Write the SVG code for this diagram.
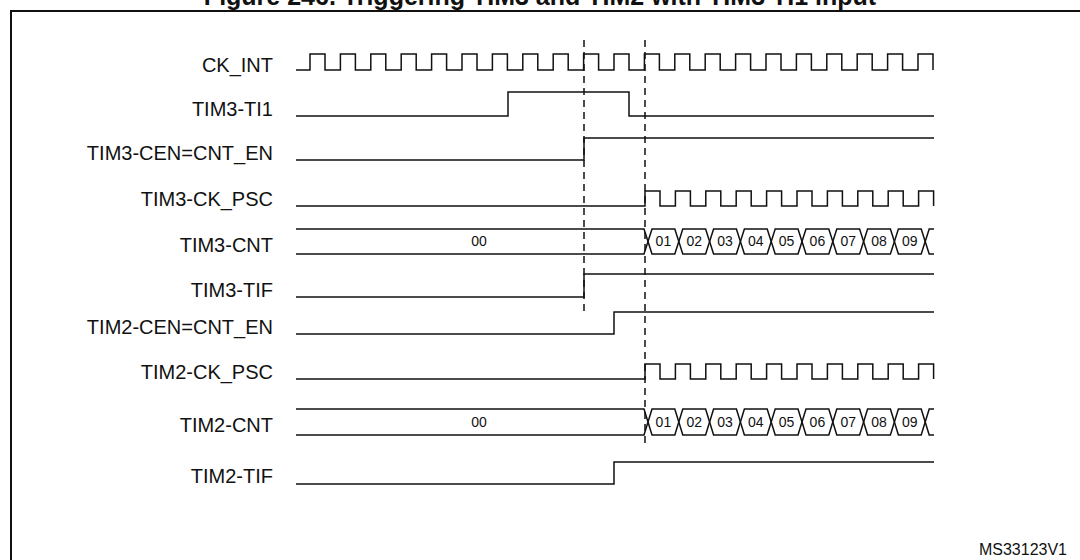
<svg xmlns="http://www.w3.org/2000/svg" width="1080" height="560" viewBox="0 0 1080 560">
<style>
.lbl{font-family:"Liberation Sans",Arial,sans-serif;font-size:20px;fill:#111;text-anchor:end}
.val{font-family:"Liberation Sans",Arial,sans-serif;font-size:14px;fill:#111;text-anchor:middle}
.w{fill:none;stroke:#111;stroke-width:1.5}
.d{fill:none;stroke:#111;stroke-width:1.5;stroke-dasharray:7,5}
</style>
<rect width="1080" height="560" fill="#fff"/>
<text x="540" y="5" style="font-family:'Liberation Sans',Arial,sans-serif;font-size:25px;font-weight:bold;text-anchor:middle" fill="#111">Figure 246. Triggering TIM3 and TIM2 with TIM3 TI1 input</text>
<path d="M11,570 V11 H1090" fill="none" stroke="#111" stroke-width="2"/>

<g id="guides">
<line class="d" x1="584" y1="40" x2="584" y2="312"/>
<line class="d" x1="645" y1="40" x2="645" y2="448"/>
</g>

<g id="ck_int">
<text class="lbl" x="273" y="72">CK_INT</text>
<path class="w" d="M296,70 H310 V54 H325 V70 H340.4 V54 H355.4 V70 H370.8 V54 H385.8 V70 H401.2 V54 H416.2 V70 H431.6 V54 H446.6 V70 H462 V54 H477 V70 H492.4 V54 H507.4 V70 H522.8 V54 H537.8 V70 H553.2 V54 H568.2 V70 H583.6 V54 H598.6 V70 H614 V54 H629 V70 H644.4 V54 H659.4 V70 H674.8 V54 H689.8 V70 H705.2 V54 H720.2 V70 H735.6 V54 H750.6 V70 H766 V54 H781 V70 H796.4 V54 H811.4 V70 H826.8 V54 H841.8 V70 H857.2 V54 H872.2 V70 H887.6 V54 H902.6 V70 H918 V54 H933 V70"/>
</g>

<g id="tim3_ti1">
<text class="lbl" x="273" y="116">TIM3-TI1</text>
<path class="w" d="M296,116 H508 V92 H629 V116 H934"/>
</g>

<g id="tim3_cen">
<text class="lbl" x="273" y="160">TIM3-CEN=CNT_EN</text>
<path class="w" d="M296,160 H584 V138 H934"/>
</g>

<g id="tim3_ck_psc">
<text class="lbl" x="273" y="206">TIM3-CK_PSC</text>
<path class="w" d="M296,206 H645 V191 H660 V206 H675.4 V191 H690.4 V206 H705.8 V191 H720.8 V206 H736.2 V191 H751.2 V206 H766.6 V191 H781.6 V206 H797 V191 H812 V206 H827.4 V191 H842.4 V206 H857.8 V191 H872.8 V206 H888.2 V191 H903.2 V206 H918.6 V191 H933.6 V206"/>
</g>

<g id="tim3_cnt">
<text class="lbl" x="273" y="252">TIM3-CNT</text>
<path class="w" d="M296,229 H644 L652,254 H674.8 L682.8,229 H705.6 L713.6,254 H736.4 L744.4,229 H767.2 L775.2,254 H798 L806,229 H828.8 L836.8,254 H859.6 L867.6,229 H890.4 L898.4,254 H921.2 L929.2,229 H934"/>
<path class="w" d="M296,254 H644 L652,229 H674.8 L682.8,254 H705.6 L713.6,229 H736.4 L744.4,254 H767.2 L775.2,229 H798 L806,254 H828.8 L836.8,229 H859.6 L867.6,254 H890.4 L898.4,229 H921.2 L929.2,254 H934"/>
<text class="val" x="479" y="246">00</text>
<text class="val" x="663.4" y="246">01</text>
<text class="val" x="694.2" y="246">02</text>
<text class="val" x="725" y="246">03</text>
<text class="val" x="755.8" y="246">04</text>
<text class="val" x="786.6" y="246">05</text>
<text class="val" x="817.4" y="246">06</text>
<text class="val" x="848.2" y="246">07</text>
<text class="val" x="879" y="246">08</text>
<text class="val" x="909.8" y="246">09</text>
</g>

<g id="tim3_tif">
<text class="lbl" x="273" y="297">TIM3-TIF</text>
<path class="w" d="M296,297 H584 V274 H934"/>
</g>

<g id="tim2_cen">
<text class="lbl" x="273" y="334">TIM2-CEN=CNT_EN</text>
<path class="w" d="M296,334 H614 V312 H934"/>
</g>

<g id="tim2_ck_psc">
<text class="lbl" x="273" y="379">TIM2-CK_PSC</text>
<path class="w" d="M296,379 H645 V364 H660 V379 H675.4 V364 H690.4 V379 H705.8 V364 H720.8 V379 H736.2 V364 H751.2 V379 H766.6 V364 H781.6 V379 H797 V364 H812 V379 H827.4 V364 H842.4 V379 H857.8 V364 H872.8 V379 H888.2 V364 H903.2 V379 H918.6 V364 H933.6 V379"/>
</g>

<g id="tim2_cnt">
<text class="lbl" x="273" y="432">TIM2-CNT</text>
<path class="w" d="M296,409 H644 L652,435 H674.8 L682.8,409 H705.6 L713.6,435 H736.4 L744.4,409 H767.2 L775.2,435 H798 L806,409 H828.8 L836.8,435 H859.6 L867.6,409 H890.4 L898.4,435 H921.2 L929.2,409 H934"/>
<path class="w" d="M296,435 H644 L652,409 H674.8 L682.8,435 H705.6 L713.6,409 H736.4 L744.4,435 H767.2 L775.2,409 H798 L806,435 H828.8 L836.8,409 H859.6 L867.6,435 H890.4 L898.4,409 H921.2 L929.2,435 H934"/>
<text class="val" x="479" y="427">00</text>
<text class="val" x="663.4" y="427">01</text>
<text class="val" x="694.2" y="427">02</text>
<text class="val" x="725" y="427">03</text>
<text class="val" x="755.8" y="427">04</text>
<text class="val" x="786.6" y="427">05</text>
<text class="val" x="817.4" y="427">06</text>
<text class="val" x="848.2" y="427">07</text>
<text class="val" x="879" y="427">08</text>
<text class="val" x="909.8" y="427">09</text>
</g>

<g id="tim2_tif">
<text class="lbl" x="273" y="483">TIM2-TIF</text>
<path class="w" d="M296,484 H614 V462 H934"/>
</g>

<text x="1067" y="555" style="font-family:'Liberation Sans',Arial,sans-serif;font-size:16px;text-anchor:end" fill="#111">MS33123V1</text>
</svg>
